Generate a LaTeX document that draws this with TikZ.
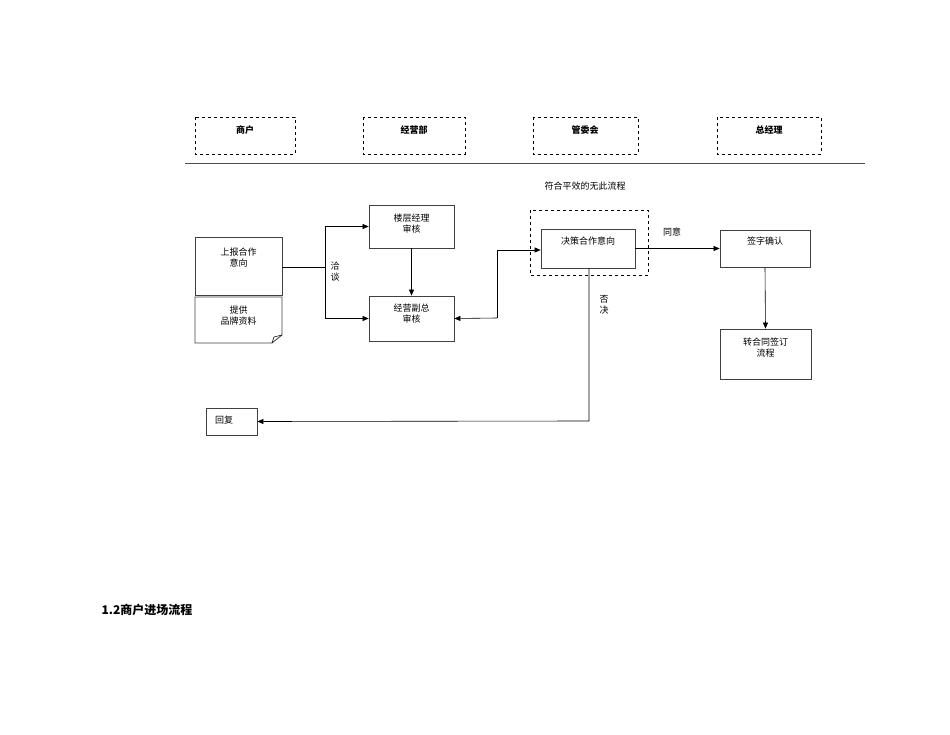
\documentclass[tikz,border=0pt]{standalone}
\usepackage{fontspec}
\setmainfont{Noto Sans CJK SC}
\usetikzlibrary{arrows.meta}
\tikzset{
  box/.style={draw=black!75,line width=0.8pt,rectangle},
  hdr/.style={draw,dashed,line width=0.6pt,minimum width=102pt,minimum height=37pt,font=\fontsize{9}{10}\selectfont\bfseries,anchor=north west,align=center,text height=7pt},
  lbl/.style={font=\fontsize{9}{11}\selectfont,align=center},
  con/.style={line width=0.6pt},
  arr/.style={con,-{Triangle[length=6pt,width=5pt]}}
}
\begin{document}
\begin{tikzpicture}[x=1pt,y=-1pt]
\useasboundingbox (0,0) rectangle (950,735);
% headers
\draw[dashed,line width=0.6pt] (195,117) rectangle (295,154);
\draw[dashed,line width=0.6pt] (363,117) rectangle (465,154);
\draw[dashed,line width=0.6pt] (533,117) rectangle (638,154);
\draw[dashed,line width=0.6pt] (717,117) rectangle (821,154);
\node[lbl,font=\fontsize{9}{10}\selectfont\bfseries] (h1) at (245,130) {商户};
\node[lbl,font=\fontsize{9}{10}\selectfont\bfseries] (h2) at (414,130) {经营部};
\node[lbl,font=\fontsize{9}{10}\selectfont\bfseries] (h3) at (585,130) {管委会};
\node[lbl,font=\fontsize{9}{10}\selectfont\bfseries] (h4) at (769,130) {总经理};
\draw[line width=0.8pt,black!70] (185,163) -- (865,163);
\node[lbl] (note) at (585,186) {符合平效的无此流程};
% boxes
\draw[box] (195,237) rectangle (282,295);
\node[lbl] (sb) at (238.5,258) {上报合作\\意向};
\draw[box] (195,297) -- (282,297) -- (282,335) -- (272,343) -- (195,343) -- cycle;
\draw[line width=0.6pt] (272,343) -- (274,337) -- (282,335);
\node[lbl] (tg) at (238.5,316) {提供\\品牌资料};
\node[box,minimum width=85pt,minimum height=43pt] (lc) at (411.5,226.5) {};
\node[lbl] at (411.5,224) {楼层经理\\审核};
\node[box,minimum width=85pt,minimum height=45pt] (fz) at (411.5,318.5) {};
\node[lbl] at (411.5,314) {经营副总\\审核};
\draw[dashed,line width=0.6pt] (530,210) rectangle (648,275);
\node[box,minimum width=94pt,minimum height=39pt] (jc) at (588,248.5) {};
\node[lbl] at (588,241) {决策合作意向};
\node[box,minimum width=90pt,minimum height=37pt] (qz) at (765,248.5) {};
\node[lbl] at (765,241) {签字确认};
\node[box,minimum width=91pt,minimum height=50pt] (zh) at (765.5,354) {};
\node[lbl] at (765.5,348) {转合同签订\\流程};
\node[box,minimum width=51pt,minimum height=27pt] (hf) at (231.5,421.5) {};
\node[lbl] at (224,420) {回复};
\node[lbl] (qt) at (335,272) {洽\\谈};
\node[lbl] (ty) at (672,232) {同意};
\node[lbl] (fj) at (604,305) {否\\决};
\coordinate (s0) at (282,267);
% connectors
\draw[con] (s0) -- (325,267);
\draw[arr] (325,267) |- (lc.west);
\draw[arr] (325,267) |- (fz.west);
\draw[arr] (lc.south) -- (fz.north);
\draw[arr] (497,318) -- (fz.east);
\draw[arr] (497,318) -- (497,250) -- (jc.west|-0,250);
\draw[arr] (jc.east) -- (qz.west);
\draw[arr] (qz.south) -- (zh.north);
\draw[arr] (589,268) -- (589,421) -- (hf.east);
\node[anchor=west,font=\fontsize{12}{14}\selectfont\bfseries] (title) at (98,610) {1.2商户进场流程};
\end{tikzpicture}
\end{document}
